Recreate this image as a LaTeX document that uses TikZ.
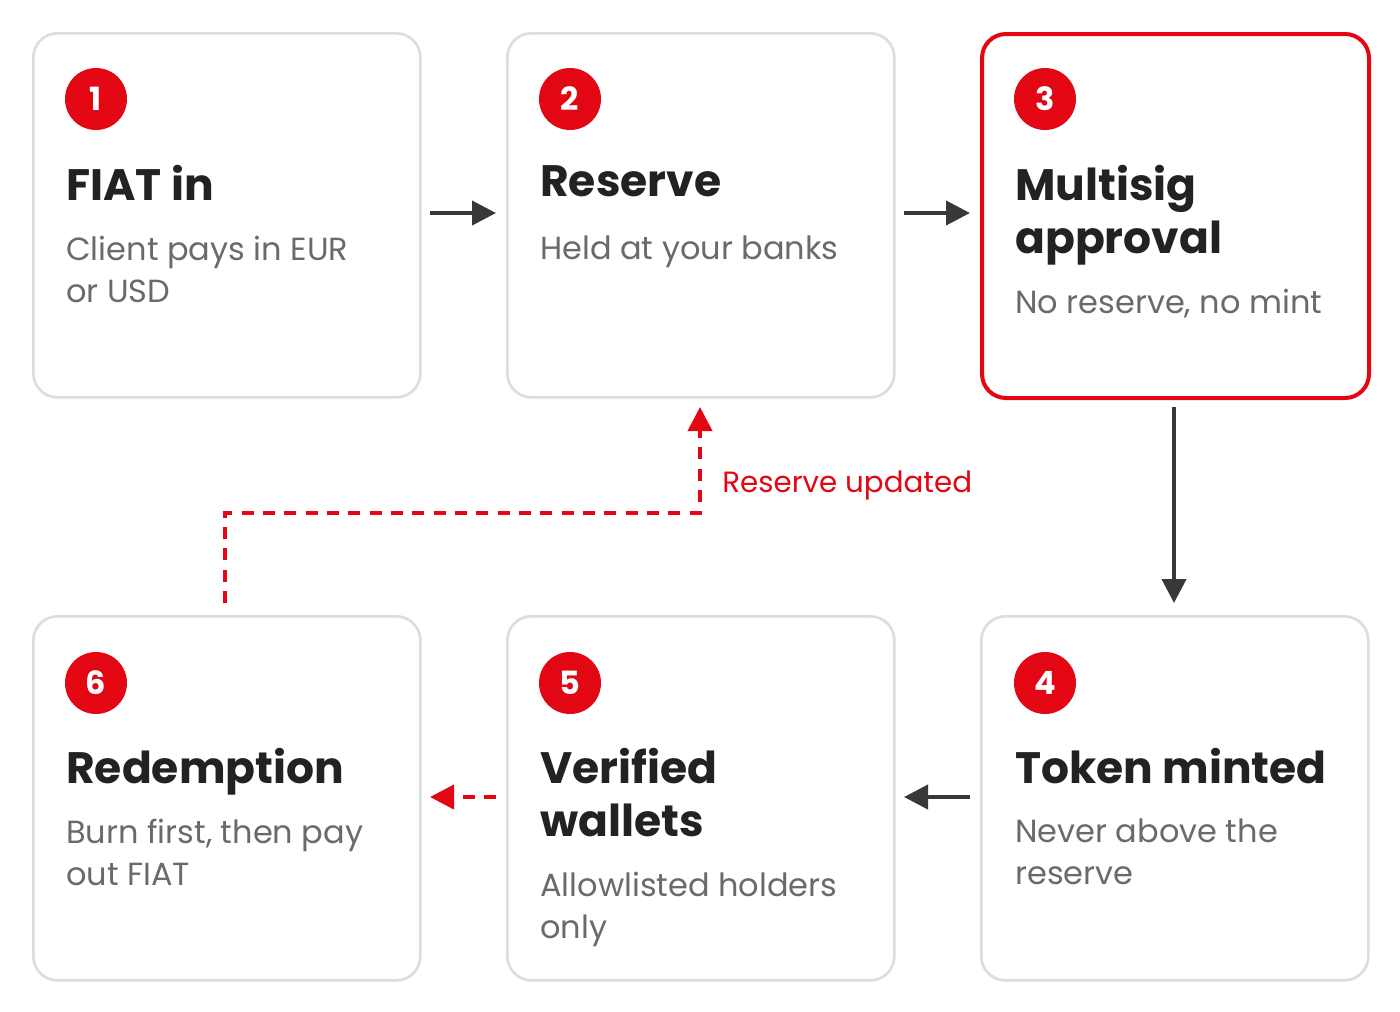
\documentclass[tikz,border=0pt]{standalone}
\usepackage{fontspec}
\setmainfont{Poppins}
\usetikzlibrary{arrows.meta}
\definecolor{rd}{HTML}{E30613}
\definecolor{dk}{HTML}{222222}
\definecolor{gr}{HTML}{6A6A6A}
\definecolor{bd}{HTML}{DDDDDD}
\begin{document}
\begin{tikzpicture}[x=0.75pt,y=-0.75pt,
 box/.style={draw=bd,line width=2pt,rounded corners=18pt,fill=white,minimum width=387*0.75pt,minimum height=364*0.75pt,anchor=north west,inner sep=0},
 rbox/.style={box,draw=rd,line width=3pt},
 num/.style={circle,fill=rd,text=white,minimum size=62*0.75pt,inner sep=0,font=\fontsize{24}{24}\selectfont\bfseries},
 ttl/.style={anchor=north west,inner sep=0,text=dk,font=\fontsize{33}{40}\selectfont\bfseries,align=left},
 bdy/.style={anchor=north west,inner sep=0,text=gr,font=\fontsize{24}{31.5}\selectfont,align=left},
 arr/.style={-{Triangle[length=18pt,width=18pt]},line width=3pt,draw=dk!90},
 rarr/.style={-{Triangle[length=18pt,width=18pt]},line width=3pt,draw=rd,dash pattern=on 9pt off 7pt}]
\useasboundingbox (0,0) rectangle (1400,1011);
\node[box] (b1) at (32,32) {};
\node[box] (b2) at (506,32) {};
\node[rbox] (b3) at (980,32) {};
\node[box] (b6) at (32,615) {};
\node[box] (b5) at (506,615) {};
\node[box] (b4) at (980,615) {};
\node[num] (n1) at (96,99) {1};
\node[num] (n2) at (570,99) {2};
\node[num] (n3) at (1045,99) {3};
\node[num] (n6) at (96,683) {6};
\node[num] (n5) at (570,683) {5};
\node[num] (n4) at (1045,683) {4};
\node[ttl] (t1) at (66,165) {FIAT in};
\node[bdy] (d1) at (66,236) {Client pays in EUR\\or USD};
\node[ttl] (t2) at (540,165) {Reserve};
\node[bdy] (d2) at (540,236) {Held at your banks};
\node[ttl] (t3) at (1015,165) {Multisig\\approval};
\node[bdy] (d3) at (1015,289) {No reserve, no mint};
\node[ttl] (t6) at (66,748) {Redemption};
\node[bdy] (d6) at (66,819) {Burn first, then pay\\out FIAT};
\node[ttl] (t5) at (540,748) {Verified\\wallets};
\node[bdy] (d5) at (540,872) {Allowlisted holders\\only};
\node[ttl] (t4) at (1015,748) {Token minted};
\node[bdy] (d4) at (1015,819) {Never above the\\reserve};
\coordinate (a1) at (430,213); \coordinate (a2) at (496,213);
\coordinate (a3) at (904,213); \coordinate (a4) at (970,213);
\coordinate (v1) at (1174,407); \coordinate (v2) at (1174,603);
\coordinate (h1) at (970,797); \coordinate (h2) at (904,797);
\coordinate (r1) at (496,797); \coordinate (r2) at (430,797);
\coordinate (p1) at (225,603); \coordinate (p2) at (225,513);
\coordinate (p3) at (700,513); \coordinate (p4) at (700,407);
\draw[arr] (a1) -- (a2);
\draw[arr] (a3) -- (a4);
\draw[arr] (v1) -- (v2);
\draw[arr] (h1) -- (h2);
\draw[rarr] (r1) -- (r2);
\draw[rarr] (p1) -- (p2) -- (p3) -- (p4);
\node[anchor=west,inner sep=0,text=rd,font=\fontsize{22}{28}\selectfont] (lab) at (722,485) {Reserve updated};
\end{tikzpicture}
\end{document}
